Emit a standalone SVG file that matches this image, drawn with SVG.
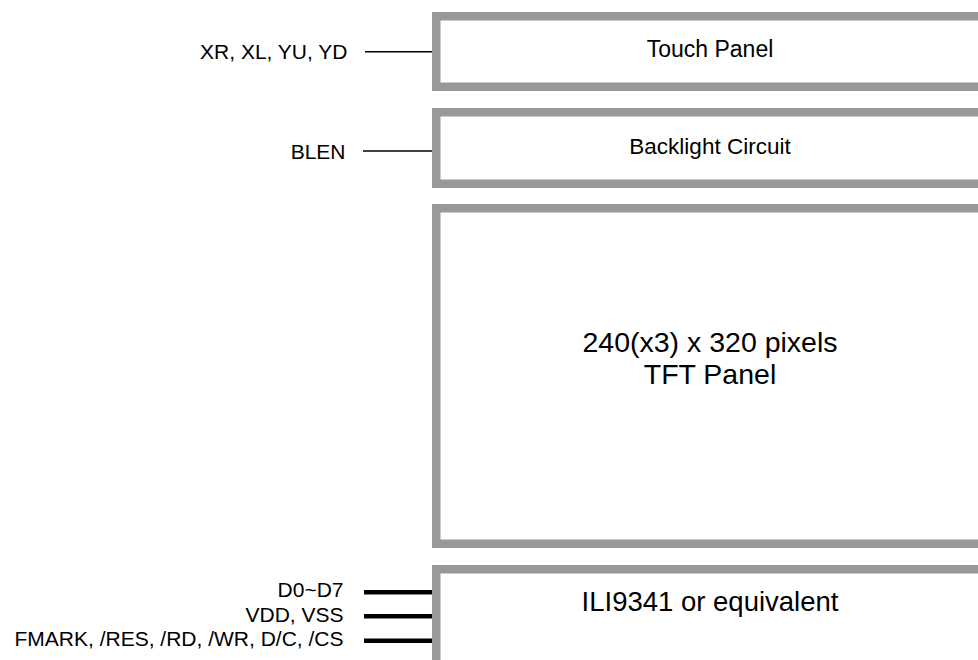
<svg xmlns="http://www.w3.org/2000/svg" width="978" height="660" viewBox="0 0 978 660">
<style>
.box{fill:#ffffff;stroke:#999999;stroke-width:8.5}
.t{font-family:"Liberation Sans",Arial,sans-serif;fill:#000000}
.lbl{font-size:21px;text-anchor:end}
.mid{text-anchor:middle}
.thin{stroke:#000000;stroke-width:1.6;fill:none}
.bus{stroke:#000000;stroke-width:4.6;fill:none}
</style>
<rect width="978" height="660" fill="#ffffff"/>
<g id="connectors">
<line class="thin" x1="365" y1="51.7" x2="433" y2="51.7"/>
<line class="thin" x1="363" y1="151" x2="433" y2="151"/>
<line class="bus" x1="364" y1="592.3" x2="433" y2="592.3"/>
<line class="bus" x1="364" y1="616.3" x2="433" y2="616.3"/>
<line class="bus" x1="364" y1="640.7" x2="433" y2="640.7"/>
</g>
<g id="touch-panel">
<rect class="box" x="436.25" y="16.25" width="560" height="70.5"/>
<text class="t mid" x="710" y="57" font-size="23">Touch Panel</text>
</g>
<g id="backlight-circuit">
<rect class="box" x="436.25" y="112.25" width="560" height="71.5"/>
<text class="t mid" x="710" y="154" font-size="22.5">Backlight Circuit</text>
</g>
<g id="tft-panel">
<rect class="box" x="436.25" y="208.25" width="560" height="335.5"/>
<text class="t mid" x="710" y="351.7" font-size="28.5">240(x3) x 320 pixels</text>
<text class="t mid" x="710" y="383.5" font-size="28.5">TFT Panel</text>
</g>
<g id="driver-ic">
<rect class="box" x="436.25" y="569.25" width="560" height="200"/>
<text class="t mid" x="710" y="610.5" font-size="27.5">ILI9341 or equivalent</text>
</g>
<g id="labels">
<text class="t lbl" x="347.5" y="59">XR, XL, YU, YD</text>
<text class="t lbl" x="345.5" y="158.5">BLEN</text>
<text class="t lbl" x="343.5" y="597.3">D0~D7</text>
<text class="t lbl" x="343.5" y="621.7">VDD, VSS</text>
<text class="t lbl" x="343.5" y="646">FMARK, /RES, /RD, /WR, D/C, /CS</text>
</g>
</svg>
